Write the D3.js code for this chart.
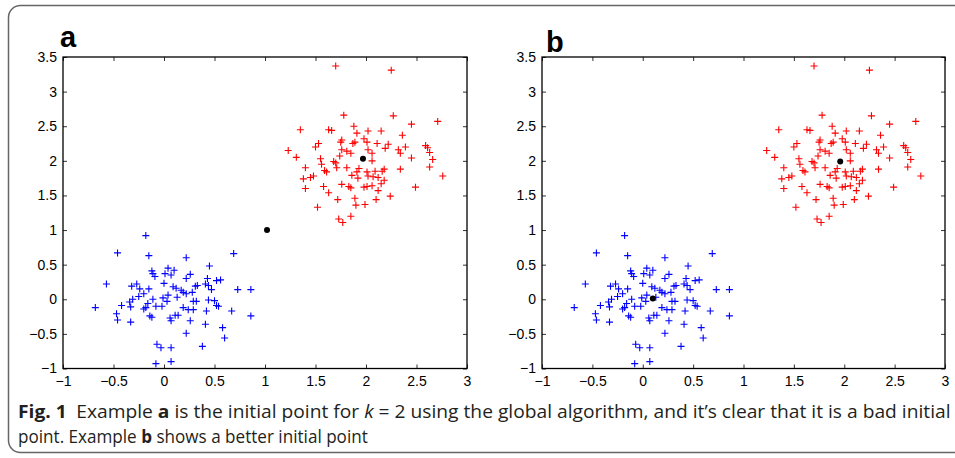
<!DOCTYPE html>
<html>
<head>
<meta charset="utf-8">
<script src="https://cdn.jsdelivr.net/npm/d3@7"></script>
<style>
  body { margin: 0; background: #fff; }
  svg { display: block; }
  .tick text { font-family: "Liberation Sans", Arial, sans-serif; font-size: 14px; fill: #000; }
  .tick line { stroke: #333; }
</style>
</head>
<body>
<script>
// cluster around (2,2)
let redPoints = [
    [1.70,3.37],[2.25,3.31],[1.78,2.66],[2.27,2.65],[2.71,2.57],[2.45,2.53],[1.35,2.45],[1.63,2.45],
    [1.66,2.44],[1.88,2.50],[1.91,2.40],[2.02,2.43],[2.15,2.43],[2.36,2.37],[1.98,2.32],[2.01,2.27],
    [1.76,2.30],[1.75,2.27],[1.87,2.25],[1.89,2.27],[1.53,2.25],[1.50,2.20],[2.11,2.25],[2.22,2.24],
    [2.19,2.18],[2.39,2.20],[2.32,2.16],[2.34,2.11],[2.59,2.22],[2.61,2.19],[2.63,2.12],[1.23,2.15],
    [1.31,2.05],[1.76,2.16],[1.81,2.14],[1.85,2.11],[2.02,2.16],[2.06,2.11],[1.74,2.07],[1.55,2.03],
    [1.56,1.95],[1.68,1.99],[1.70,1.97],[1.71,1.90],[2.06,2.00],[2.45,2.04],[2.66,2.02],[2.63,1.91],
    [1.40,1.90],[1.59,1.86],[1.61,1.84],[1.81,1.90],[1.91,1.84],[1.93,1.89],[2.01,1.84],[2.09,1.85],
    [2.16,1.85],[2.18,1.88],[2.34,1.88],[1.38,1.74],[1.45,1.76],[1.48,1.78],[1.86,1.79],[1.92,1.75],
    [2.02,1.78],[2.07,1.77],[2.12,1.76],[2.18,1.72],[2.76,1.78],[1.40,1.60],[1.58,1.63],[1.76,1.66],
    [1.83,1.63],[1.85,1.61],[1.98,1.62],[2.01,1.63],[2.06,1.64],[2.15,1.67],[2.49,1.62],[1.63,1.54],
    [2.12,1.57],[1.89,1.46],[2.10,1.44],[2.24,1.49],[1.72,1.44],[1.90,1.36],[1.99,1.37],[1.52,1.33],
    [1.85,1.20],[1.73,1.16],[1.77,1.11]
];

// cluster around (0,0)
let bluePoints = [
    [-0.18,0.92],[-0.46,0.67],[-0.15,0.63],[0.69,0.66],[0.22,0.60],[0.45,0.48],[0.04,0.45],[0.10,0.42],
    [-0.12,0.41],[-0.11,0.37],[-0.09,0.33],[0.01,0.37],[0.07,0.35],[0.22,0.30],[0.26,0.36],[-0.57,0.22],
    [-0.32,0.19],[-0.27,0.22],[-0.24,0.15],[-0.15,0.15],[0.00,0.23],[0.09,0.18],[0.12,0.16],[0.31,0.19],
    [0.33,0.20],[0.41,0.22],[0.43,0.30],[0.44,0.20],[0.47,0.14],[0.52,0.27],[0.56,0.28],[0.73,0.14],
    [0.86,0.14],[-0.20,0.08],[-0.25,0.04],[-0.31,0.00],[-0.34,-0.04],[-0.42,-0.09],[-0.68,-0.12],[-0.33,-0.11],
    [-0.20,-0.14],[-0.18,-0.12],[-0.16,-0.06],[-0.11,0.00],[-0.08,-0.10],[-0.02,-0.10],[-0.01,0.02],[0.03,-0.03],
    [0.04,0.06],[0.13,0.03],[0.17,0.13],[0.19,0.10],[0.22,0.08],[0.28,0.10],[0.29,-0.03],[0.32,-0.03],
    [0.44,-0.01],[0.50,-0.02],[0.52,-0.09],[0.54,-0.10],[0.19,-0.12],[0.24,-0.15],[0.29,-0.15],[0.42,-0.17],
    [0.67,-0.17],[-0.47,-0.21],[-0.46,-0.30],[-0.33,-0.33],[-0.14,-0.24],[-0.12,-0.26],[0.06,-0.27],[0.07,-0.31],
    [0.11,-0.23],[0.14,-0.23],[0.26,-0.31],[0.41,-0.36],[0.86,-0.24],[0.58,-0.41],[0.22,-0.49],[0.60,-0.56],
    [-0.07,-0.65],[-0.03,-0.70],[0.07,-0.70],[0.38,-0.68],[-0.08,-0.93],[0.07,-0.90]
];

// initial points (black dots)
let initialA = [[1.97,2.03],[1.02,1.00]];
let initialB = [[1.96,1.99],[0.10,0.01]];

let xTicks = [-1,-0.5,0,0.5,1,1.5,2,2.5,3];
let yTicks = [-1,-0.5,0,0.5,1,1.5,2,2.5,3,3.5];

let width = 955;
let height = 458;

let svg = d3.select("body").append("svg")
    .attr("width", width)
    .attr("height", height);

// card border
svg.append("rect")
    .attr("x", 8.5)
    .attr("y", 5.5)
    .attr("width", 1000)
    .attr("height", 447)
    .attr("rx", 12)
    .attr("fill", "none")
    .attr("stroke", "#666")
    .attr("stroke-width", 1.5);

let fmt = d3.format("");

function drawPanel(left, right, label, labelX, labelY, centers) {
    let x = d3.scaleLinear().domain([-1, 3]).range([left, right]);
    let y = d3.scaleLinear().domain([-1, 3.5]).range([368.5, 57]);

    let g = svg.append("g");

    // ticks on all four sides, pointing inwards
    g.append("g")
        .attr("transform", `translate(0,${y(-1)})`)
        .call(d3.axisBottom(x).tickValues(xTicks).tickFormat(fmt).tickSize(-4).tickPadding(8))
        .call(a => a.select(".domain").remove());
    g.append("g")
        .attr("transform", `translate(0,${y(3.5)})`)
        .call(d3.axisTop(x).tickValues(xTicks).tickFormat("").tickSize(-4))
        .call(a => a.select(".domain").remove());
    g.append("g")
        .attr("transform", `translate(${x(-1)},0)`)
        .call(d3.axisLeft(y).tickValues(yTicks).tickFormat(fmt).tickSize(-4).tickPadding(6))
        .call(a => a.select(".domain").remove());
    g.append("g")
        .attr("transform", `translate(${x(3)},0)`)
        .call(d3.axisRight(y).tickValues(yTicks).tickFormat("").tickSize(-4))
        .call(a => a.select(".domain").remove());

    g.append("rect")
        .attr("x", x(-1))
        .attr("y", y(3.5))
        .attr("width", x(3) - x(-1))
        .attr("height", y(-1) - y(3.5))
        .attr("fill", "none")
        .attr("stroke", "#000")
        .attr("stroke-width", 1.3);

    // plus markers
    let plus = d => `M${x(d[0]) - 3.5},${y(d[1])}h7M${x(d[0])},${y(d[1]) - 3.5}v7`;

    g.append("g").selectAll("path")
        .data(bluePoints)
        .enter().append("path")
        .attr("d", plus)
        .attr("stroke", "#0000ff")
        .attr("stroke-width", 1.1);

    g.append("g").selectAll("path")
        .data(redPoints)
        .enter().append("path")
        .attr("d", plus)
        .attr("stroke", "#ff0000")
        .attr("stroke-width", 1.1);

    g.append("g").selectAll("circle")
        .data(centers)
        .enter().append("circle")
        .attr("cx", d => x(d[0]))
        .attr("cy", d => y(d[1]))
        .attr("r", 3)
        .attr("fill", "#000");

    svg.append("text")
        .attr("x", labelX)
        .attr("y", labelY)
        .attr("font-family", "Liberation Sans, Arial, sans-serif")
        .attr("font-weight", "bold")
        .attr("font-size", 29)
        .text(label);
}

drawPanel(63, 467, "a", 60, 47, initialA);
drawPanel(542, 945, "b", 546, 52, initialB);

// caption, squeezed horizontally to look like the condensed journal font
let cap = svg.append("g")
    .attr("font-family", "Open Sans, Liberation Sans, sans-serif")
    .attr("font-size", 18)
    .attr("fill", "#231f20");

function captionLine(yPos, target, parts) {
    let t = cap.append("text");
    parts.forEach(p => {
        let s = t.append("tspan").text(p[0]);
        if (p[1]) s.attr(p[1], p[2]);
    });
    let w = t.node().getComputedTextLength();
    t.attr("transform", `translate(18,${yPos}) scale(${target / w},1)`);
}

captionLine(418, 933, [
    ["Fig. 1", "font-weight", "bold"],
    ["\u2002Example "],
    ["a", "font-weight", "bold"],
    [" is the initial point for "],
    ["k", "font-style", "italic"],
    [" = 2 using the global algorithm, and it\u2019s clear that it is a bad initial"]
]);

captionLine(443, 350, [
    ["point. Example "],
    ["b", "font-weight", "bold"],
    [" shows a better initial point"]
]);
</script>
</body>
</html>
